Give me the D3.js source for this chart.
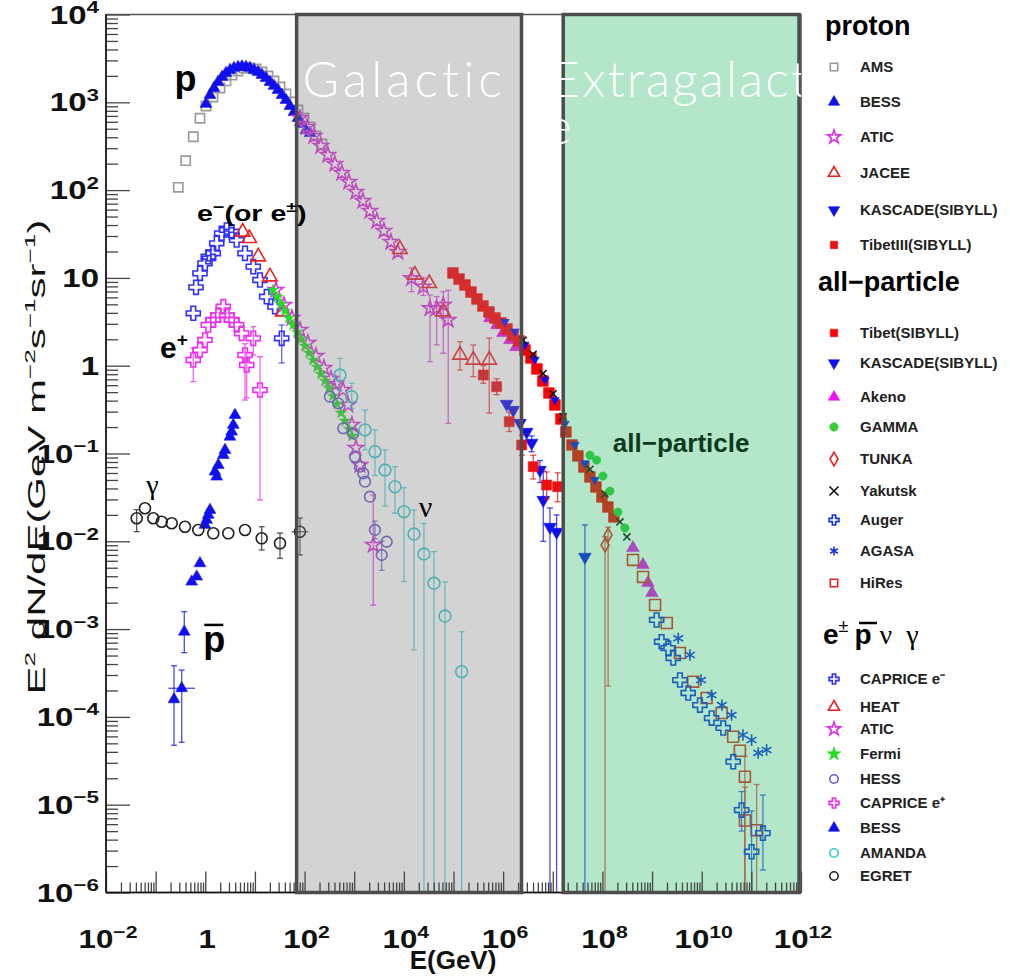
<!DOCTYPE html>
<html>
<head>
<meta charset="utf-8">
<script src="https://cdn.jsdelivr.net/npm/d3@7"></script>
<style>
body { margin: 0; background: #fff; }
svg { display: block; font-family: "Liberation Sans", Arial, sans-serif; }
</style>
</head>
<body>
<svg id="chart" width="1010" height="977"></svg>
<script>
// every point: [log10 E(GeV), log10 E^2dN/dE, err low, err high, xerr low, xerr high] (errors also log10)
const protonAMS = [[-0.544,2.032],[-0.395,2.335],[-0.242,2.608],[-0.107,2.818],[0.014,2.958],[0.155,3.060],[0.296,3.163],[0.417,3.243],[0.538,3.311],[0.659,3.356],[0.779,3.391],[0.900,3.391],[1.021,3.379],[1.142,3.345],[1.263,3.300],[1.384,3.243],[1.505,3.174],[1.625,3.095],[1.746,3.004],[1.867,2.912],[1.988,2.821],[2.109,2.719],[2.229,2.616],[2.350,2.525]];
const protonBESS = [[0.014,2.981],[0.095,3.083],[0.175,3.163],[0.256,3.231],[0.336,3.288],[0.417,3.334],[0.498,3.368],[0.578,3.391],[0.659,3.402],[0.739,3.408],[0.820,3.402],[0.900,3.391],[0.981,3.368],[1.062,3.345],[1.142,3.311],[1.223,3.277],[1.303,3.231],[1.384,3.186],[1.464,3.140],[1.545,3.083],[1.625,3.026],[1.706,2.958],[1.787,2.889],[1.867,2.821],[1.948,2.753],[2.028,2.684],[2.109,2.648]];
const protonATIC = [[1.907,2.821],[2.048,2.719],[2.189,2.616],[2.328,2.503],[2.469,2.400],[2.610,2.298],[2.751,2.195],[2.892,2.093],[3.033,1.979],[3.174,1.876],[3.315,1.762],[3.456,1.648],[3.597,1.534],[3.738,1.409],[3.879,1.295],[4.155,0.995,0.843,1.113],[4.391,0.900,0.800,1.000],[4.526,0.654,0.046,0.805],[4.661,0.654,0.237,0.786],[4.794,0.691,0.141,0.843],[4.894,0.520,-0.656,0.860]];
const protonJACEE = [[3.921,1.326],[4.221,1.033],[4.511,0.938],[4.793,0.615],[5.130,0.122,-0.049,0.273],[5.398,0.065,-0.125,0.236],[5.720,0.065,-0.539,0.315]];
const protonKASCADE = [[6.070,-0.436],[6.203,-0.505],[6.338,-0.653],[6.473,-0.755],[6.574,-0.880,-0.98,-0.80],[6.741,-1.188,-1.33,-1.08],[6.808,-1.530,-2.00,-1.20],[6.943,-1.837,-6,-1.62],[7.077,-1.894,-6,-1.70],[7.647,-2.178,-6,-1.814]];
const protonTibetIII = [[5.601,-0.106,-0.20,0.00],[5.869,-0.239,-0.33,-0.15],[6.123,-0.638,-0.75,-0.53],[6.373,-0.903,-1.02,-0.79],[6.606,-1.150,-1.29,-1.02],[6.876,-1.359,-1.52,-1.21],[7.098,-1.378,-1.55,-1.22]];

const allTibet = [[4.989,1.056],[5.110,0.987],[5.231,0.919],[5.352,0.839],[5.473,0.760],[5.593,0.680],[5.714,0.612],[5.835,0.543],[5.956,0.487],[6.077,0.418],[6.197,0.350],[6.318,0.282],[6.439,0.179],[6.560,0.088],[6.681,-0.037],[6.801,-0.174],[6.922,-0.311],[7.043,-0.447],[7.164,-0.607],[7.265,-0.755],[7.386,-0.903],[7.506,-1.028],[7.627,-1.154],[7.748,-1.267],[7.869,-1.381],[7.990,-1.495],[8.110,-1.609],[8.231,-1.723]];
const allKASCADE = [[6.036,0.500],[6.237,0.390],[6.439,0.240],[6.640,0.070],[6.842,-0.160],[7.043,-0.390],[7.245,-0.660],[7.446,-0.900],[7.648,-1.110],[7.849,-1.300]];
const allAkeno = [[5.734,0.543],[5.875,0.464],[5.996,0.373],[6.137,0.293],[6.258,0.213],[8.614,-2.075],[8.816,-2.269],[8.917,-2.474],[8.997,-2.588]];
const allGAMMA = [[7.748,-1.020],[7.883,-1.075],[8.010,-1.257],[8.151,-1.428],[8.312,-1.667],[8.453,-1.849]];
const allTUNKA = [[8.053,-2.042,-6,-1.95],[8.114,-1.928,-3.648,-1.84]];
const allYakutsk = [[6.400,0.290],[6.602,0.130],[6.803,-0.090],[7.005,-0.320],[7.206,-0.580],[7.748,-1.180],[8.050,-1.460],[8.352,-1.780],[8.493,-1.950]];
const allAuger = [[9.092,-2.896],[9.192,-3.144],[9.326,-3.216],[9.426,-3.329],[9.561,-3.580],[9.728,-3.728],[9.964,-3.865],[10.199,-4.013],[10.433,-4.126],[10.634,-4.510],[10.803,-5.061,-5.3,-4.85],[11.005,-5.536,-6,-5.07],[11.233,-5.324,-5.744,-4.890]];
const allAGASA = [[9.527,-3.105],[9.763,-3.295],[9.985,-3.580],[10.199,-3.751],[10.407,-3.865],[10.602,-3.979],[10.830,-4.206],[11.005,-4.263],[11.138,-4.411],[11.307,-4.377]];
const allHiRes = [[8.616,-2.212],[8.818,-2.406],[9.060,-2.725],[9.296,-2.930],[9.561,-3.272],[9.829,-3.599],[10.099,-3.785],[10.401,-3.956],[10.634,-4.226],[10.769,-4.385],[10.870,-4.681,-6,-4.45],[10.870,-5.180,-6,-4.80],[11.106,-5.290,-5.99,-4.77]];

const elecCAPRICE = [[-0.242,0.597],[-0.187,0.893],[-0.107,1.052],[-0.006,1.166],[0.060,1.241],[0.161,1.280],[0.230,1.394],[0.330,1.508],[0.431,1.546],[0.532,1.526],[0.632,1.432],[0.800,1.280],[0.967,1.128],[1.102,0.976],[1.237,0.786],[1.404,0.672],[1.539,0.312,0.031,0.464]];
const elecHEAT = [[0.753,1.523],[0.886,1.451],[1.067,1.241],[1.303,1.014],[1.559,0.615]];
const elecATIC = [[1.424,0.862],[1.585,0.691],[1.746,0.543],[1.907,0.407],[2.068,0.259],[2.229,0.110],[2.390,-0.026],[2.531,-0.151],[2.632,-0.208],[2.773,-0.276],[2.874,-0.447],[2.954,-0.675],[3.035,-0.937],[3.115,-1.131],[3.384,-2.042,-2.726,-1.473]];
const elecFermi = [[1.364,0.862],[1.444,0.783],[1.525,0.703],[1.605,0.623],[1.686,0.543],[1.767,0.464],[1.847,0.384],[1.928,0.304],[2.008,0.225],[2.089,0.145],[2.169,0.065],[2.250,-0.015],[2.330,-0.094],[2.411,-0.174],[2.492,-0.254],[2.572,-0.345],[2.653,-0.436],[2.733,-0.538],[2.814,-0.629],[2.894,-0.721],[2.955,-0.800]];
const elecHESS = [[2.510,-0.353],[2.678,-0.428],[2.779,-0.713],[2.981,-0.770],[3.015,-1.036],[3.116,-1.150],[3.182,-1.226],[3.217,-1.321],[3.317,-1.492],[3.418,-1.871,-1.97,-1.77],[3.553,-2.156,-2.33,-2.00],[3.654,-2.005]];
const posCAPRICE = [[-0.242,0.065,-0.182,0.20],[-0.107,0.179],[-0.006,0.293],[0.060,0.464],[0.161,0.521],[0.262,0.577],[0.363,0.672],[0.431,0.577],[0.532,0.521],[0.632,0.464],[0.733,0.369],[0.800,0.122,-0.391,0.25],[0.834,0.008,-0.367,0.15],[0.967,0.312,0.122,0.444],[1.102,-0.277,-1.530,0.103]];
const pbarBESS = [[0.598,-0.562],[0.564,-0.675],[0.532,-0.752],[0.497,-0.809],[0.397,-0.960],[0.363,-1.017],[0.262,-1.131],[0.195,-1.207],[0.230,-1.264],[0.095,-1.644],[0.060,-1.700],[0.028,-1.757],[-0.006,-1.814],[-0.107,-2.251],[-0.173,-2.403],[-0.274,-2.460],[-0.423,-3.030,-3.269,-2.802],[-0.475,-3.674,-4.289,-3.466,-0.745,-0.207],[-0.630,-3.800,-4.323,-3.417]];
const nuAMANDA = [[2.713,-0.106,-0.277,0.084],[2.949,-0.353,-0.486,-0.200],[3.217,-0.732,-0.959,-0.506],[3.418,-0.979,-1.25,-0.73],[3.620,-1.188,-1.60,-0.96],[3.821,-1.378,-1.68,-1.15],[4.002,-1.663,-2.460,-1.39],[4.204,-1.917,-3.238,-1.643],[4.405,-2.145,-6,-1.795],[4.607,-2.478,-6,-2.118],[4.828,-2.851,-6,-2.462],[5.164,-3.485,-6,-3.030]];
const gammaEGRET = [[-1.382,-1.738,-1.89,-1.64],[-1.215,-1.624],[-1.047,-1.738],[-0.878,-1.777],[-0.677,-1.795],[-0.409,-1.834],[-0.141,-1.871],[0.161,-1.909],[0.463,-1.909],[0.800,-1.871],[1.136,-1.966,-2.099,-1.834],[1.505,-2.023,-2.193,-1.906],[1.907,-1.891,-2.156,-1.735,1.740,2.075]];

// shaded energy ranges, log10 E(GeV)
const galacticRange = [1.84, 6.37];
const extragalacticRange = [7.21, 11.96];

const xDecades = d3.range(-2, 13);
const yDecades = d3.range(-6, 5);

const svg = d3.select("#chart");
const plot = {left: 106, right: 801, top: 14.5, bottom: 892.5};
const x = d3.scaleLog().domain([1e-2, 1e12]).range([plot.left, plot.right]);
const y = d3.scaleLog().domain([1e-6, 1e4]).range([plot.bottom, plot.top]);
const X = l => x(Math.pow(10, l));
const Y = l => y(Math.pow(10, l));

var shapes = {
    sqOpen: [d3.symbolSquare, false, 0],
    sqFill: [d3.symbolSquare, true, 0],
    triFill: [d3.symbolTriangle, true, 0],
    triOpen: [d3.symbolTriangle, false, 0],
    triDown: [d3.symbolTriangle, true, 180],
    starOpen: [d3.symbolStar, false, 0],
    starFill: [d3.symbolStar, true, 0],
    circFill: [d3.symbolCircle, true, 0],
    circOpen: [d3.symbolCircle, false, 0],
    diaOpen: [d3.symbolDiamond, false, 0],
    times: [d3.symbolTimes || d3.symbolX, false, 0],
    crossOpen: [d3.symbolCross, false, 0],
    asterisk: [d3.symbolAsterisk, false, 0]
};

// drawing order = list order
const series = [
    {name: "AMS", data: protonAMS, shape: "sqOpen", color: "#999999", size: 85},
    {name: "BESS", data: protonBESS, shape: "triFill", color: "#1010ee", size: 60},
    {name: "ATIC", data: protonATIC, shape: "starOpen", color: "#e030e0", size: 70},
    {name: "JACEE", data: protonJACEE, shape: "triOpen", color: "#ee2020", size: 90},
    {name: "KASCADE(SIBYLL)", data: protonKASCADE, shape: "triDown", color: "#1010ee", size: 70},
    {name: "TibetIII(SIBYLL)", data: protonTibetIII, shape: "sqFill", color: "#ee1010", size: 100},
    {name: "Akeno", data: allAkeno, shape: "triFill", color: "#ee10ee", size: 70},
    {name: "Tibet(SIBYLL)", data: allTibet, shape: "sqFill", color: "#ff0000", size: 115},
    {name: "KASCADE(SIBYLL)", data: allKASCADE, shape: "triDown", color: "#1010ee", size: 32},
    {name: "Yakutsk", data: allYakutsk, shape: "times", color: "#111111", size: 35},
    {name: "GAMMA", data: allGAMMA, shape: "circFill", color: "#33cc33", size: 55},
    {name: "TUNKA", data: allTUNKA, shape: "diaOpen", color: "#ee2020", size: 55},
    {name: "HiRes", data: allHiRes, shape: "sqOpen", color: "#ee2020", size: 120},
    {name: "Auger", data: allAuger, shape: "crossOpen", color: "#1030ee", size: 110},
    {name: "AGASA", data: allAGASA, shape: "asterisk", color: "#1030ee", size: 90},
    {name: "CAPRICE e-", data: elecCAPRICE, shape: "crossOpen", color: "#3030ff", size: 110},
    {name: "HEAT", data: elecHEAT, shape: "triOpen", color: "#ee2020", size: 90},
    {name: "ATIC", data: elecATIC, shape: "starOpen", color: "#e030e0", size: 70},
    {name: "Fermi", data: elecFermi, shape: "starFill", color: "#22dd22", size: 40},
    {name: "HESS", data: elecHESS, shape: "circOpen", color: "#6a5acd", size: 90},
    {name: "CAPRICE e+", data: posCAPRICE, shape: "crossOpen", color: "#ee30ee", size: 110},
    {name: "BESS", data: pbarBESS, shape: "triFill", color: "#1010ee", size: 60},
    {name: "AMANDA", data: nuAMANDA, shape: "circOpen", color: "#33cccc", size: 110},
    {name: "EGRET", data: gammaEGRET, shape: "circOpen", color: "#222222", size: 95}
];
const byName = (n, i) => series.filter(s => s.name === n)[i || 0];

function drawMarker(g, shape, color, size, cx, cy) {
    var s = shapes[shape];
    g.append("path")
        .attr("d", d3.symbol().type(s[0]).size(size)())
        .attr("transform", "translate(" + cx + "," + cy + ") rotate(" + s[2] + ")")
        .attr("fill", s[1] ? color : "none")
        .attr("stroke", color)
        .attr("stroke-width", s[1] ? 0.6 : 1.6);
}

const defs = svg.append("defs");
defs.append("clipPath").attr("id", "plotclip")
    .append("rect").attr("x", plot.left).attr("y", plot.top)
    .attr("width", plot.right - plot.left).attr("height", plot.bottom - plot.top);

const plotG = svg.append("g").attr("clip-path", "url(#plotclip)");

// error bars first, then markers
series.forEach(s => {
    var g = plotG.append("g");
    s.data.forEach(d => {
        var cx = X(d[0]), cy = Y(d[1]);
        if (d.length > 2) {
            g.append("line").attr("x1", cx).attr("x2", cx).attr("y1", Y(d[2])).attr("y2", Y(d[3]))
                .attr("stroke", s.color).attr("stroke-width", 1.3).attr("opacity", 0.75);
            [d[2], d[3]].forEach(e => {
                if (e > -6) g.append("line").attr("x1", cx - 3).attr("x2", cx + 3).attr("y1", Y(e)).attr("y2", Y(e))
                    .attr("stroke", s.color).attr("stroke-width", 1.3).attr("opacity", 0.75);
            });
        }
        if (d.length > 4) {
            g.append("line").attr("x1", X(d[4])).attr("x2", X(d[5])).attr("y1", cy).attr("y2", cy)
                .attr("stroke", s.color).attr("stroke-width", 1.3).attr("opacity", 0.75);
        }
    });
    s.data.forEach(d => drawMarker(g, s.shape, s.color, s.size, X(d[0]), Y(d[1])));
});

// semi-transparent energy regions on top of the data
plotG.append("rect")
    .attr("x", X(galacticRange[0])).attr("y", plot.top)
    .attr("width", X(galacticRange[1]) - X(galacticRange[0])).attr("height", plot.bottom - plot.top)
    .attr("fill", "#808080").attr("opacity", 0.35);
plotG.append("rect")
    .attr("x", X(extragalacticRange[0])).attr("y", plot.top)
    .attr("width", X(extragalacticRange[1]) - X(extragalacticRange[0])).attr("height", plot.bottom - plot.top)
    .attr("fill", "#28b964").attr("opacity", 0.35);

// axes
var minor = [];
xDecades.slice(0, -1).forEach(e => d3.range(2, 10).forEach(k => minor.push(k * Math.pow(10, e))));
svg.append("g").attr("transform", "translate(0," + plot.bottom + ")")
    .call(d3.axisBottom(x).tickValues(minor).tickSize(-10).tickFormat(""))
    .call(g => g.select(".domain").remove());
svg.append("g").attr("transform", "translate(0," + plot.bottom + ")")
    .call(d3.axisBottom(x).tickValues(xDecades.map(e => Math.pow(10, e))).tickSize(-21).tickFormat(""))
    .call(g => g.select(".domain").remove());

var yminor = [];
yDecades.slice(0, -1).forEach(e => d3.range(2, 10).forEach(k => yminor.push(k * Math.pow(10, e))));
svg.append("g").attr("transform", "translate(" + plot.left + ",0)")
    .call(d3.axisLeft(y).tickValues(yminor).tickSize(-12).tickFormat(""))
    .call(g => g.select(".domain").remove());
svg.append("g").attr("transform", "translate(" + plot.left + ",0)")
    .call(d3.axisLeft(y).tickValues(yDecades.map(e => Math.pow(10, e))).tickSize(-24).tickFormat(""))
    .call(g => g.select(".domain").remove());
svg.selectAll(".tick line").attr("stroke", "#444").attr("stroke-width", 1.3);

svg.append("rect").attr("x", plot.left).attr("y", plot.top)
    .attr("width", plot.right - plot.left).attr("height", plot.bottom - plot.top)
    .attr("fill", "none").attr("stroke", "#555").attr("stroke-width", 1.5);
svg.append("line").attr("x1", plot.left).attr("x2", plot.right).attr("y1", plot.bottom).attr("y2", plot.bottom)
    .attr("stroke", "#111").attr("stroke-width", 1.5);
svg.append("line").attr("x1", plot.left).attr("x2", plot.left).attr("y1", plot.top).attr("y2", plot.bottom)
    .attr("stroke", "#111").attr("stroke-width", 1.5);

// region borders
[galacticRange, extragalacticRange].forEach(r => {
    svg.append("rect").attr("x", X(r[0])).attr("y", plot.top)
        .attr("width", X(r[1]) - X(r[0])).attr("height", plot.bottom - plot.top)
        .attr("fill", "none").attr("stroke", "#4d4d4d").attr("stroke-width", 3.5);
});

function powLabel(sel, e, big, small) {
    if (e === 0) { sel.append("tspan").text("1"); return; }
    sel.append("tspan").text("10");
    if (e !== 1) sel.append("tspan").attr("dy", -big * 0.42).attr("font-size", small)
        .text(String(e).replace("-", "\u2212"));
}

xDecades.filter(e => e % 2 === 0).forEach(e => {
    var t = svg.append("text")
        .attr("transform", "translate(" + (X(e) + 2) + ",948) scale(1.25,1)")
        .attr("text-anchor", "middle").attr("font-size", 25).attr("font-weight", "bold").attr("fill", "#111");
    powLabel(t, e, 25, 17);
});
yDecades.forEach(e => {
    var t = svg.append("text")
        .attr("transform", "translate(99," + (Y(e) + 9) + ") scale(1.32,1)")
        .attr("text-anchor", "end").attr("font-size", 25).attr("font-weight", "bold").attr("fill", "#111");
    powLabel(t, e, 25, 17);
});

svg.append("text").attr("x", 453).attr("y", 969).attr("text-anchor", "middle")
    .attr("font-size", 26).attr("font-weight", "bold").attr("fill", "#111").text("E(GeV)");

var yt = svg.append("text")
    .attr("text-anchor", "middle").attr("font-size", 24).attr("fill", "#111");
[["E", 0], ["2", 1], [" dN/dE(GeV m", 0], ["-2", 1], ["s", 0], ["-1", 1], ["sr", 0], ["-1", 1], [")", 0]].forEach((p, i, arr) => {
    var prev = i > 0 ? arr[i - 1][1] : 0;
    yt.append("tspan").attr("dy", (p[1] - prev) * -10).attr("font-size", p[1] ? 15 : 24).text(p[0].replace("-", "\u2212"));
});
var ytw = yt.node().getComputedTextLength();
yt.attr("transform", "translate(45,457) rotate(-90) scale(" + (475 / ytw) + ",1)");

// particle labels, placed in data coordinates
var lab = svg.append("g").attr("fill", "#000");
lab.append("text").attr("x", X(-0.62)).attr("y", Y(3.13)).attr("font-size", 36).attr("font-weight", "bold").text("p");
var em = lab.append("text").attr("x", X(-0.165)).attr("y", Y(1.65)).attr("font-size", 22).attr("font-weight", "bold")
    .attr("transform", "translate(" + (-0.3 * X(-0.165)) + ",0) scale(1.3,1)");
em.append("tspan").text("e");
em.append("tspan").attr("dy", -9).attr("font-size", 15).text("\u2212");
em.append("tspan").attr("dy", 9).text("(or e");
em.append("tspan").attr("dy", -9).attr("font-size", 15).text("\u00b1");
em.append("tspan").attr("dy", 9).text(")");
var ep = lab.append("text").attr("x", X(-0.91)).attr("y", Y(0.09)).attr("font-size", 30).attr("font-weight", "bold");
ep.append("tspan").text("e");
ep.append("tspan").attr("dy", -12).attr("font-size", 19).text("+");
lab.append("text").attr("x", X(-1.19)).attr("y", Y(-1.46)).attr("font-size", 28)
    .attr("font-family", "'Liberation Serif', serif").text("\u03b3");
lab.append("text").attr("x", X(-0.04)).attr("y", Y(-3.26)).attr("font-size", 36).attr("font-weight", "bold").text("p");
lab.append("line").attr("x1", X(-0.04) + 1).attr("x2", X(-0.04) + 20)
    .attr("y1", Y(-3.26) - 27).attr("y2", Y(-3.26) - 27).attr("stroke", "#000").attr("stroke-width", 2.5);
lab.append("text").attr("x", X(4.30)).attr("y", Y(-1.72)).attr("font-size", 30)
    .attr("font-family", "'Liberation Serif', serif").text("\u03bd");
lab.append("text").attr("x", X(8.21)).attr("y", Y(-0.985)).attr("font-size", 26).attr("font-weight", "bold")
    .attr("fill", "#0c3a1c").text("all\u2212particle");

const titleG = svg.append("g").attr("clip-path", "url(#plotclip)")
    .attr("font-family", "Lato, 'Open Sans', sans-serif").attr("font-size", 50).attr("font-weight", 300).attr("fill", "#fff");
titleG.append("text").attr("x", X(1.96)).attr("y", Y(3.06)).attr("letter-spacing", 4).text("Galactic");
titleG.append("text").attr("x", X(6.97)).attr("y", Y(3.06)).attr("letter-spacing", 2).text("Extragalactic");
titleG.append("text").attr("x", X(6.86)).attr("y", Y(2.53)).text("e");

// legend
var legend = svg.append("g");
legend.append("text").attr("x", 825).attr("y", 35).attr("font-size", 27).attr("font-weight", "bold").text("proton");
legend.append("text").attr("x", 818).attr("y", 291).attr("font-size", 27).attr("font-weight", "bold").text("all\u2212particle");
var hd = legend.append("text").attr("x", 823).attr("y", 644).attr("font-size", 28).attr("font-weight", "bold");
hd.append("tspan").text("e");
hd.append("tspan").attr("dy", -12).attr("font-size", 18).attr("font-weight", "normal").text("\u00b1");
hd.append("tspan").attr("dy", 12).attr("dx", 6).text("p");
hd.append("tspan").attr("dx", 8).attr("font-weight", "normal").attr("font-family", "'Liberation Serif', serif").text("\u03bd");
hd.append("tspan").attr("dx", 14).attr("font-weight", "normal").attr("font-family", "'Liberation Serif', serif").text("\u03b3");
legend.append("line").attr("x1", 859).attr("x2", 877).attr("y1", 623).attr("y2", 623).attr("stroke", "#000").attr("stroke-width", 2.5);

const legendRows = [
    ["AMS", 0, 67, "AMS"], ["BESS", 0, 102, "BESS"], ["ATIC", 0, 137, "ATIC"], ["JACEE", 0, 173, "JACEE"],
    ["KASCADE(SIBYLL)", 0, 210, "KASCADE(SIBYLL)"], ["TibetIII(SIBYLL)", 0, 245, "TibetIII(SIBYLL)"],
    ["Tibet(SIBYLL)", 0, 333, "Tibet(SIBYLL)"], ["KASCADE(SIBYLL)", 1, 363, "KASCADE(SIBYLL)"], ["Akeno", 0, 397, "Akeno"],
    ["GAMMA", 0, 427, "GAMMA"], ["TUNKA", 0, 459, "TUNKA"], ["Yakutsk", 0, 491, "Yakutsk"], ["Auger", 0, 520, "Auger"],
    ["AGASA", 0, 551, "AGASA"], ["HiRes", 0, 583, "HiRes"],
    ["CAPRICE e-", 0, 679, "CAPRICE e\u207b"], ["HEAT", 0, 707, "HEAT"], ["ATIC", 1, 729, "ATIC"], ["Fermi", 0, 754, "Fermi"],
    ["HESS", 0, 779, "HESS"], ["CAPRICE e+", 0, 803, "CAPRICE e\u207a"], ["BESS", 1, 828, "BESS"],
    ["AMANDA", 0, 853, "AMANDA"], ["EGRET", 0, 876, "EGRET"]
];
legendRows.forEach(r => {
    var s = byName(r[0], r[1]);
    drawMarker(legend, s.shape, s.color, (s.shape === "starFill" ? 60 : 55), 834, r[2]);
    legend.append("text").attr("x", 860).attr("y", r[2] + 5).attr("font-size", 15).attr("font-weight", "bold")
        .attr("fill", "#222").text(r[3]);
});
</script>
</body>
</html>
